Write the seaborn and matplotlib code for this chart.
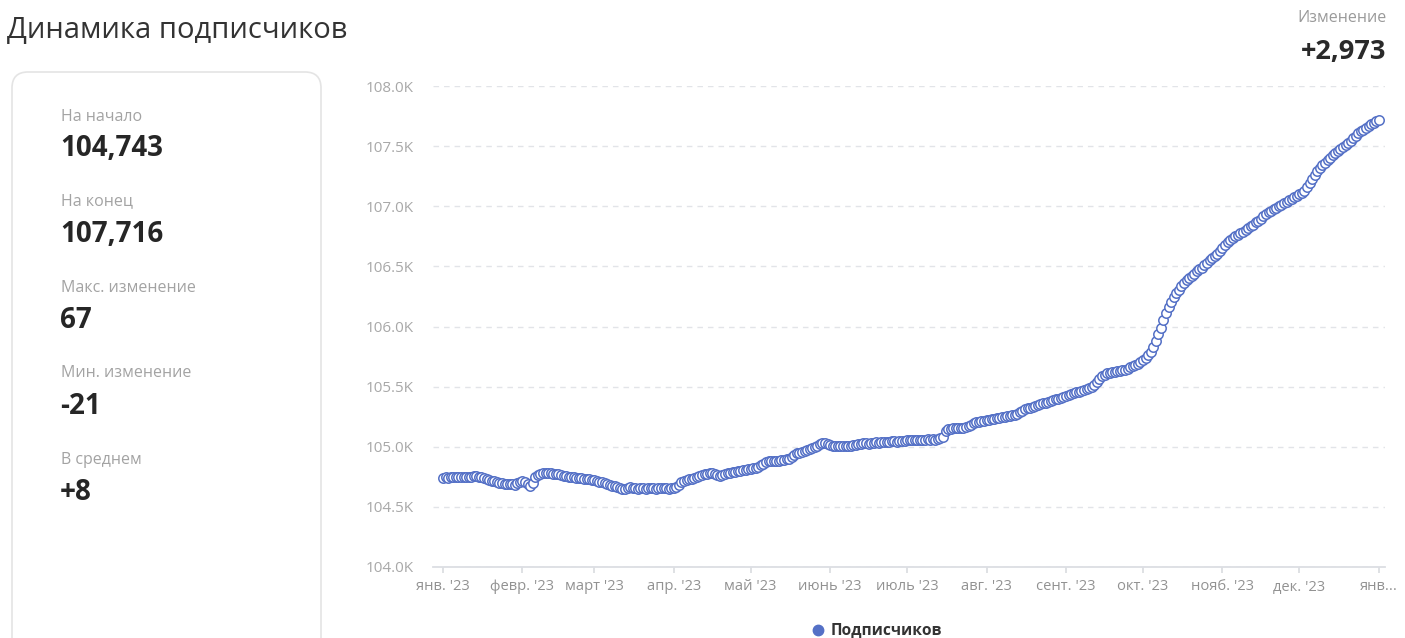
import numpy as np
import pandas as pd
import matplotlib
matplotlib.use("Agg")
import matplotlib.pyplot as plt
from matplotlib.patches import FancyBboxPatch
from matplotlib.lines import Line2D
import seaborn as sns

# ---------------- data ----------------
start_date = "2023-01-01"
end_date = "2024-01-01"

jan = [104743, 104745, 104744, 104746, 104745, 104747, 104746, 104748, 104747, 104749,
       104750, 104752, 104755, 104756, 104752, 104746, 104740, 104733, 104726, 104718,
       104712, 104706, 104702, 104698, 104694, 104690, 104687, 104692, 104685, 104700, 104708]
feb = [104712, 104705, 104691, 104670, 104700, 104745, 104765, 104775, 104778, 104780,
       104779, 104781, 104777, 104775, 104770, 104766, 104760, 104755, 104750, 104752,
       104746, 104740, 104742, 104736, 104731, 104733, 104728, 104725]
mar = [104720, 104714, 104709, 104705, 104698, 104690, 104684, 104677, 104670, 104662,
       104655, 104648, 104645, 104658, 104666, 104660, 104655, 104652, 104657, 104655,
       104650, 104654, 104658, 104655, 104652, 104656, 104660, 104657, 104654, 104652, 104655]
apr = [104658, 104662, 104680, 104705, 104712, 104720, 104728, 104735, 104742, 104748,
       104755, 104762, 104770, 104776, 104780, 104783, 104775, 104765, 104760, 104764,
       104772, 104780, 104785, 104788, 104792, 104796, 104800, 104804, 104808, 104812]
may = [104816, 104820, 104825, 104832, 104845, 104860, 104872, 104878, 104880, 104879,
       104882, 104884, 104887, 104890, 104894, 104900, 104918, 104935, 104945, 104950,
       104955, 104962, 104970, 104980, 104990, 105000, 105010, 105020, 105028, 105030, 105024]
jun = [105012, 105005, 105003, 105006, 105004, 105007, 105005, 105008, 105010, 105012,
       105015, 105020, 105025, 105028, 105030, 105027, 105030, 105033, 105036, 105035,
       105038, 105040, 105038, 105041, 105044, 105046, 105043, 105046, 105048, 105050]
jul = [105052, 105055, 105053, 105056, 105058, 105057, 105060, 105058, 105061, 105059,
       105062, 105060, 105064, 105070, 105085, 105128, 105145, 105150, 105152, 105155,
       105153, 105157, 105160, 105166, 105175, 105185, 105195, 105205, 105208, 105212, 105215]
aug = [105220, 105224, 105228, 105232, 105236, 105240, 105244, 105248, 105252, 105256,
       105262, 105268, 105275, 105285, 105298, 105310, 105320, 105326, 105333, 105340,
       105347, 105354, 105360, 105366, 105372, 105380, 105388, 105394, 105400, 105408, 105416]
sep = [105424, 105432, 105440, 105446, 105452, 105458, 105465, 105472, 105480, 105488,
       105496, 105510, 105535, 105560, 105585, 105600, 105610, 105615, 105618, 105622,
       105626, 105630, 105636, 105642, 105650, 105660, 105670, 105680, 105692, 105705]
oct_ = [105718, 105735, 105760, 105790, 105830, 105880, 105935, 105985, 106052, 106110,
        106160, 106205, 106245, 106278, 106305, 106333, 106360, 106385, 106405, 106422,
        106440, 106458, 106475, 106490, 106510, 106530, 106550, 106568, 106586, 106605, 106625]
nov = [106650, 106680, 106705, 106722, 106738, 106752, 106765, 106778, 106790, 106802,
       106815, 106832, 106848, 106865, 106880, 106898, 106915, 106932, 106950, 106962,
       106975, 106988, 107000, 107012, 107025, 107038, 107050, 107062, 107075, 107088]
dec = [107098, 107110, 107130, 107160, 107195, 107230, 107262, 107290, 107315, 107340,
       107362, 107383, 107405, 107425, 107442, 107460, 107476, 107492, 107508, 107524,
       107545, 107565, 107585, 107605, 107622, 107638, 107652, 107666, 107680, 107694,
       107705, 107716]

subscribers = jan + feb + mar + apr + may + jun + jul + aug + sep + oct_ + nov + dec

month_ticks = ["2023-01-01", "2023-02-01", "2023-03-01", "2023-04-01", "2023-05-01",
               "2023-06-01", "2023-07-01", "2023-08-01", "2023-09-01", "2023-10-01",
               "2023-11-01", "2023-12-01", "2024-01-01"]
month_labels = ["янв. '23", "февр. '23", "март '23", "апр. '23", "май '23", "июнь '23",
                "июль '23", "авг. '23", "сент. '23", "окт. '23", "нояб. '23", "дек. '23",
                "янв..."]
y_ticks = [104000, 104500, 105000, 105500, 106000, 106500, 107000, 107500, 108000]

title = "Динамика подписчиков"
series_name = "Подписчиков"
stat_labels = ["На начало", "На конец", "Макс. изменение", "Мин. изменение", "В среднем"]
stat_values = ["104,743", "107,716", "67", "-21", "+8"]
change_label = "Изменение"
change_value = "+2,973"

# ---------------- styling ----------------
sns.set_theme(style="white")
plt.rcParams["font.family"] = ["Open Sans", "DejaVu Sans"]

BLUE = "#5470c6"
W, H = 1405, 638
fig = plt.figure(figsize=(W / 100, H / 100), dpi=100)
fig.patch.set_facecolor("white")

# overlay in pixel coordinates for panel/texts
ov = fig.add_axes([0, 0, 1, 1], zorder=0)
ov.set_xlim(0, W)
ov.set_ylim(H, 0)
ov.axis("off")

box = FancyBboxPatch((12, 72), 309, 620, boxstyle="round,pad=0,rounding_size=16",
                     facecolor="white", edgecolor="#e4e4e4", linewidth=1.2)
ov.add_patch(box)

ov.text(7, 31, title, fontsize=21, color="#333333", va="center", ha="left")
ov.text(1387, 18, change_label, fontsize=11.5, color="#9a9a9a", va="center", ha="right")
ov.text(1386, 52, change_value, fontsize=19.5, color="#2a2a2a", va="center", ha="right",
        fontweight="bold")

label_y = [117, 201, 288, 373, 460]
value_y = [149, 234, 320, 406, 492]
for lab, val, ly, vy in zip(stat_labels, stat_values, label_y, value_y):
    ov.text(61, ly, lab, fontsize=11.5, color="#a3a3a3", va="center", ha="left")
    ov.text(60, vy, val, fontsize=20, color="#262626", va="center", ha="left",
            fontweight="bold")

# main chart
left, right, top, bottom = 433, 1385, 86, 567
ax = fig.add_axes([left / W, 1 - bottom / H, (right - left) / W, (bottom - top) / H], zorder=1)
ax.set_facecolor("none")

dates = pd.date_range(start_date, end_date, freq="D")
df = pd.DataFrame({"date": dates, "value": subscribers})

sns.scatterplot(data=df, x="date", y="value", ax=ax, marker="o", s=46,
                facecolor="white", edgecolor=BLUE, linewidth=1.1, legend=False, zorder=3)

t0 = pd.Timestamp(start_date)
ax.set_xlim(t0 - pd.Timedelta(days=3.9), t0 + pd.Timedelta(days=367.4))
ax.set_ylim(y_ticks[0], y_ticks[-1])

ax.set_yticks(y_ticks)
ax.set_yticklabels([f"{v / 1000:.1f}K" for v in y_ticks])
ax.set_xticks(pd.to_datetime(month_ticks))
ax.set_xticklabels(month_labels)

ax.set_xlabel("")
ax.set_ylabel("")
for s in ["top", "right", "left"]:
    ax.spines[s].set_visible(False)
ax.spines["bottom"].set_color("#dcdee3")
ax.spines["bottom"].set_linewidth(1.3)

ax.yaxis.grid(True, color="#e2e4e8", linewidth=1.0, linestyle=(0, (4, 3.6)))
ax.xaxis.grid(False)
ax.tick_params(axis="y", length=0, pad=14, labelsize=11, labelcolor="#a8a8a8")
ax.tick_params(axis="x", direction="out", length=4, width=1.1, color="#d6d8dd",
               pad=5, labelsize=10.6, labelcolor="#929292", bottom=True)

handle = Line2D([], [], marker="o", linestyle="none", markersize=7.5,
                markerfacecolor=BLUE, markeredgecolor=BLUE)
leg = fig.legend([handle], [series_name], loc="center",
                 bbox_to_anchor=(876 / W, 1 - 631 / H), frameon=False,
                 handletextpad=0.3, borderpad=0, handlelength=1.0,
                 prop={"family": ["Open Sans", "DejaVu Sans"], "weight": "bold", "size": 11.2})
for t in leg.get_texts():
    t.set_color("#333333")

fig.savefig("out.png", dpi=100, facecolor="white")
